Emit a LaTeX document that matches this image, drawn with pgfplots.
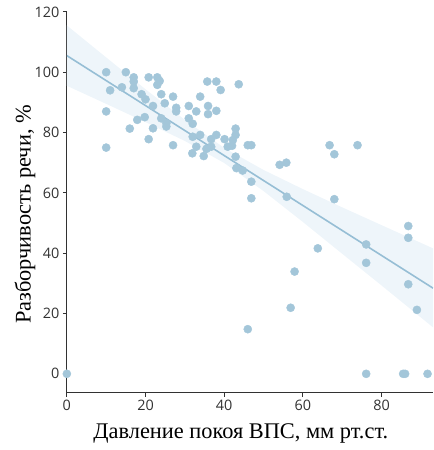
\documentclass[border=0pt]{standalone}
\usepackage{fontspec}
\setmainfont{Liberation Serif}
\newfontfamily\tickfont{Open Sans}
\usepackage{pgfplots}
\pgfplotsset{compat=1.18}
\usepgfplotslibrary{fillbetween}
\definecolor{dot}{RGB}{163,198,217}
\definecolor{fitline}{RGB}{150,190,213}
\definecolor{band}{RGB}{238,245,250}
\definecolor{axgray}{RGB}{50,50,50}
\begin{document}
\begin{tikzpicture}
\begin{axis}[
  scale only axis, width=367bp, height=382.7bp,
  xmin=0, xmax=93.1, ymin=-6.3, ymax=120.3,
  axis lines*=left,
  xtick={0,20,40,60,80}, ytick={0,20,40,60,80,100,120},
  tick align=outside, major tick length=4bp,
  tick style={color=axgray, line width=0.8pt},
  axis line style={color=axgray, line width=1pt},
  ticklabel style={font=\tickfont\fontsize{14.5}{14.5}\selectfont, color=axgray},
  /pgf/number format/assume math mode=true,
  xlabel={Давление покоя ВПС, мм рт.ст.},
  ylabel={Разборчивость речи, \%},
  label style={font=\fontsize{22.5}{22.5}\selectfont},
  xlabel style={at={(axis description cs:0.475,-0.107)}, anchor=center},
  ylabel style={at={(axis description cs:-0.114,0.467)}, anchor=center},
]
\addplot[name path=up, draw=none, forget plot] coordinates {
(0,115.5) (10,104.9) (20,94.35) (30,84.2) (40,74.9) (50,67.6) (60,61.25) (70,55.2) (80,49.3) (93.1,41.6)};
\addplot[name path=lo, draw=none, forget plot] coordinates {
(0,95.5) (10,89.5) (20,83.45) (30,77.2) (40,69.9) (50,60.6) (60,50.35) (70,39.8) (80,29.3) (93.1,15.4)};
\addplot[fill=band, draw=none, forget plot] fill between[of=up and lo];
\addplot[only marks, color=dot, mark=*, mark size=4.1pt, mark options={draw=dot, fill=dot}] coordinates {
(0,0)
(10,100) (11,94) (10,87) (10,75)
(15,100) (14,95)
(17,98.3) (17,96.9) (17,94.7)
(16,81.3) (17.9,84.2) (19.8,85.1) (19,92.7) (20,91) (20.8,98.3)
(23,98.3) (23.6,97.1) (23,95.8)
(21.9,88.8) (20.8,77.8) (21.9,81.4)
(24,92.7) (24.9,89.7) (27,91.9) (27.8,88.2) (27.8,87) (24,84.7) (25.3,83.1) (25.3,82) (27,75.8)
(31,88.8) (32.9,87) (31,84.7) (32,82.9) (33.9,91.9) (35.9,88.8) (35.9,86.1) (38,87.2) (35.7,96.9) (38,96.9) (39.1,94.1) (43.7,96)
(32,78.6) (33.9,79.2) (32.9,75.3) (31.9,73.1) (34.8,72.2)
(35.5,74.6) (36.7,75.3) (36.7,77.8) (38,79.2) (40.1,77.8)
(40.9,75.3) (42,75.6) (42.9,81.3) (42.9,79.2) (42.2,77.5) (42.9,72)
(43.1,68.2) (44.7,67.4) (46,75.8) (46.9,75.8) (46.9,63.7) (46.9,58.2)
(66.8,75.8) (68,72.8) (73.9,75.8) (54.1,69.3) (55.8,70) (68,57.9)
(55.9,58.7) (86.8,49) (86.8,45.1) (76.1,42.9) (63.8,41.6) (76.1,36.8) (57.9,33.9) (86.8,29.7) (89,21.2) (56.9,21.9) (46,14.8)
(76.1,0) (85.5,0) (86,0) (91.7,0) (93.6,31.7)
};
\addplot[fitline, line width=1.6pt] coordinates {(0,105.5) (93.1,28.4)};
\end{axis}
\pgfresetboundingbox
\path[use as bounding box] ([xshift=-67bp,yshift=-57.3bp]current axis.south west) rectangle ([yshift=11bp]current axis.north east);
\end{tikzpicture}
\end{document}
